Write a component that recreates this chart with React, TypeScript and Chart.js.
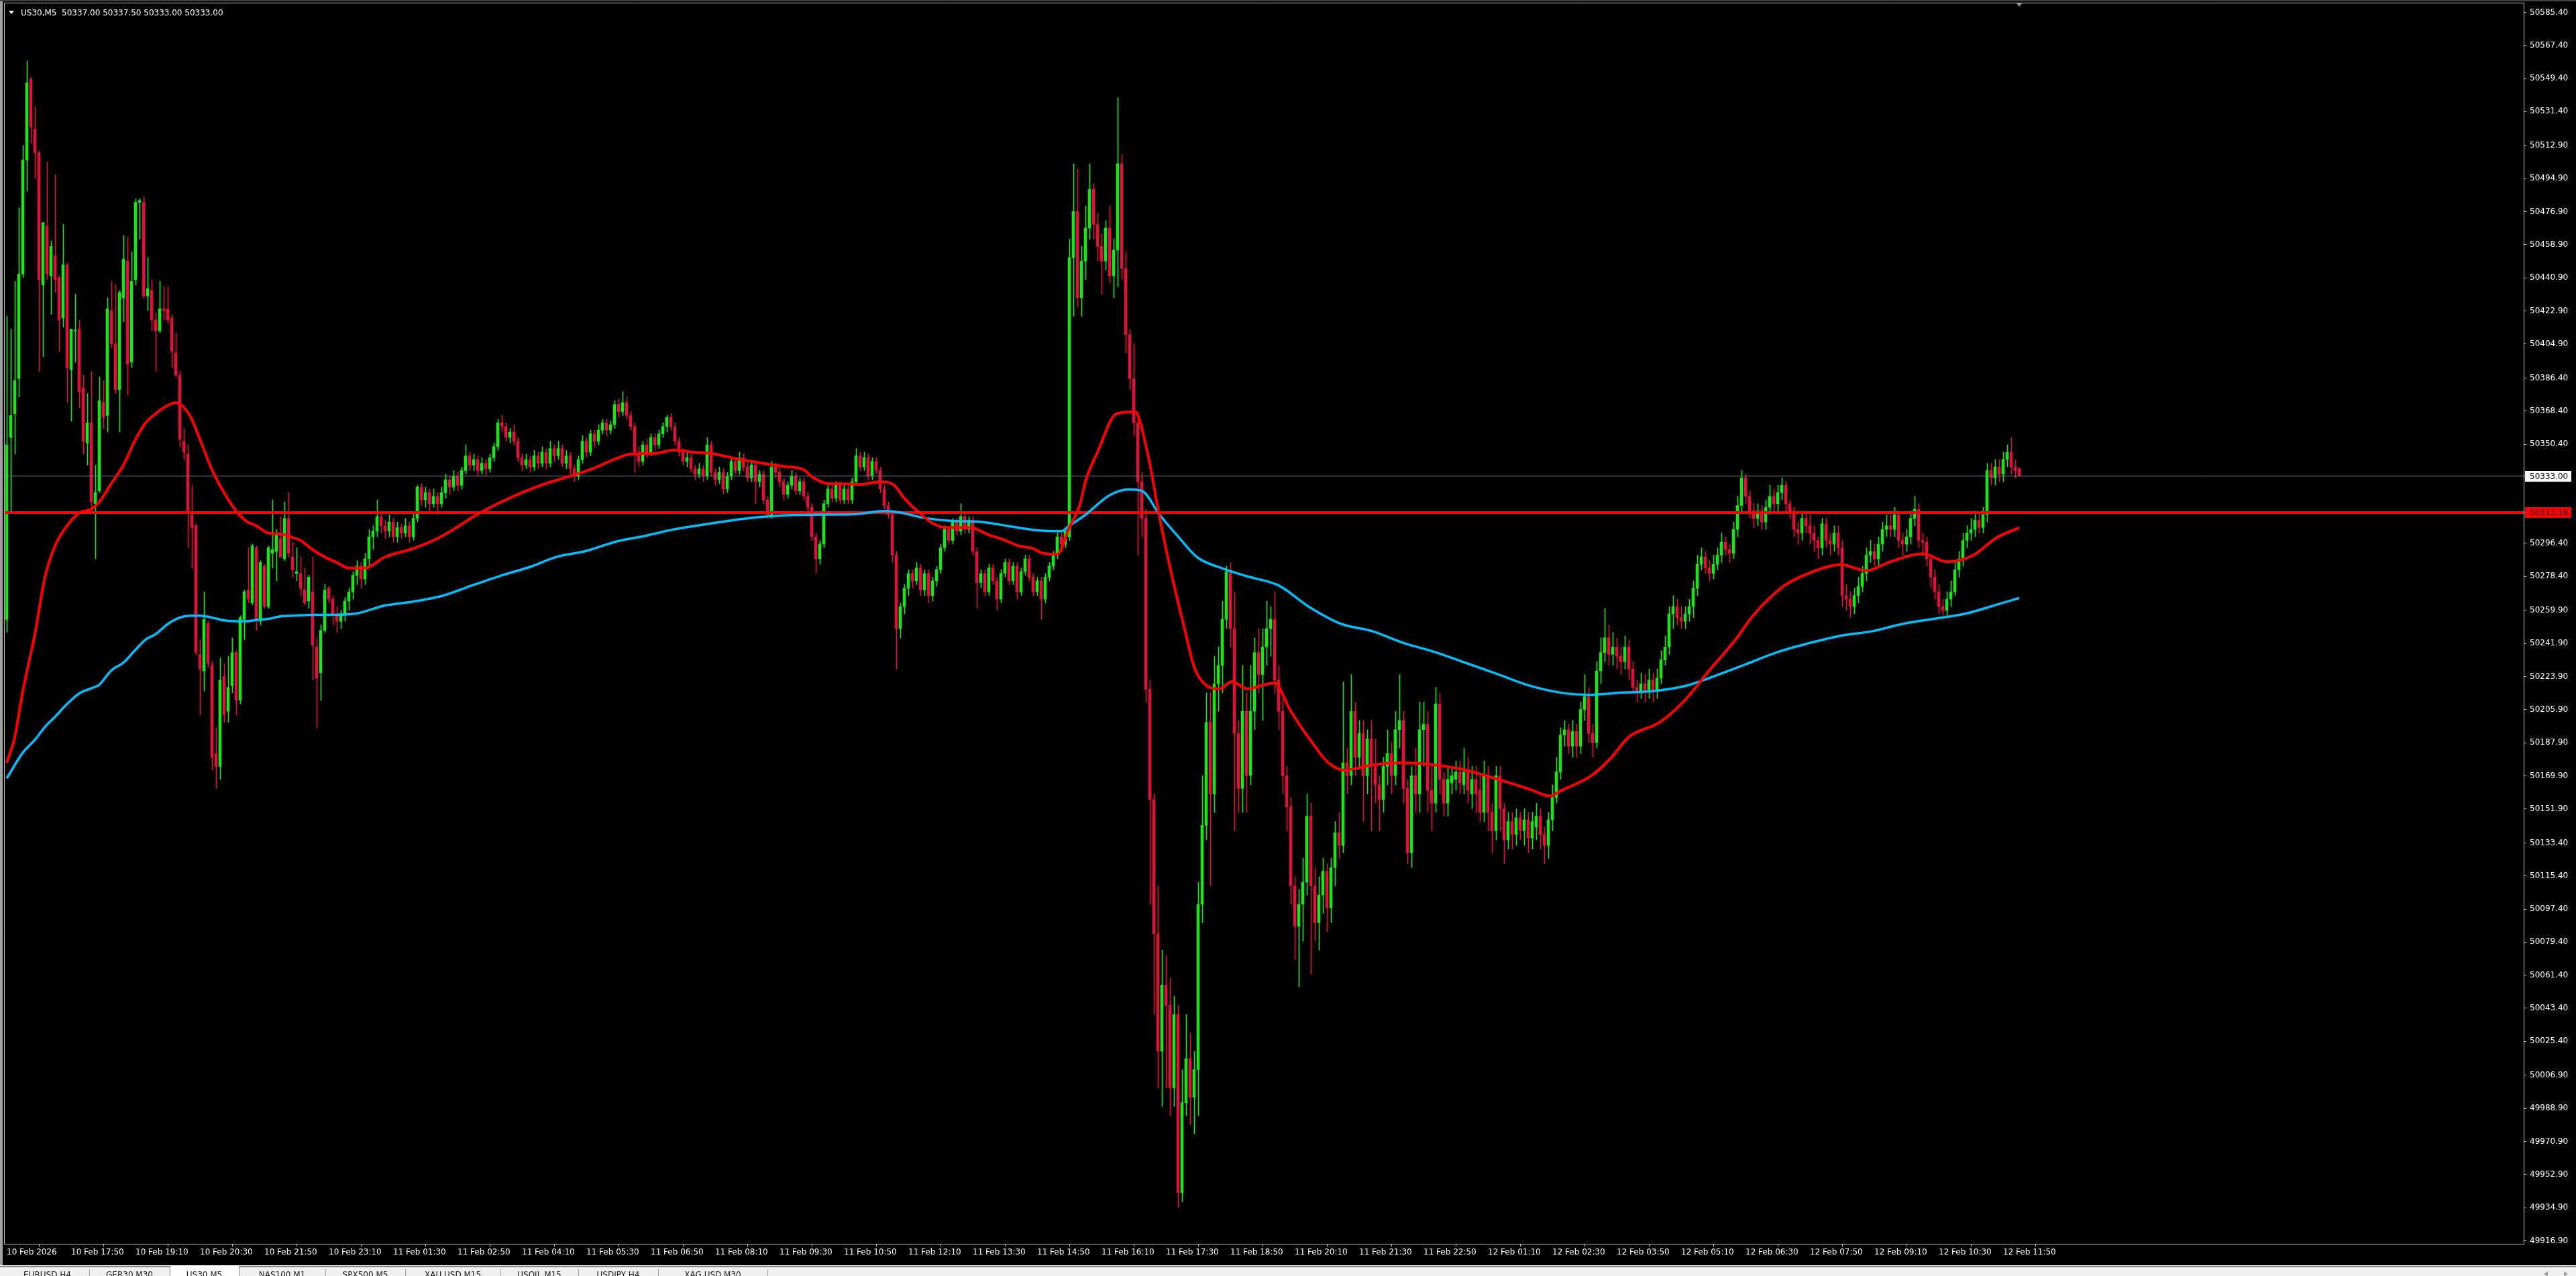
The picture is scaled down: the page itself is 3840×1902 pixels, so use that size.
import React, { useEffect, useRef } from 'react';
import { Chart, registerables } from 'chart.js';

Chart.register(...registerables);

// ---------------- DATA (US30, M5) ----------------
const symbolTitle = 'US30,M5';
const lastQuote = ['50337.00', '50337.50', '50333.00', '50333.00'];

const barOpen = [
  50255,50354,50367,50386,50443,50505,50549,50522,50509,50437,
  50469,50442,50453,50441,50419,50448,50391,50412,50413,50381,
  50351,50362,50318,50325,50373,50366,50423,50405,50380,50430,
  50450,50395,50440,50482,50482,50431,50434,50418,50412,50424,
  50424,50419,50400,50388,50352,50345,50312,50306,50236,50227,
  50253,50230,50182,50175,50224,50205,50219,50237,50211,50255,
  50271,50264,50294,50254,50284,50262,50291,50292,50299,50288,
  50310,50289,50280,50280,50271,50265,50270,50240,50226,50249,
  50272,50266,
  50258,50254,50258,50265,50270,50279,50284,50277,50288,50300,
  50303,50311,50306,50303,50308,50300,50305,50302,50306,50300,
  50310,50327,50320,50324,50318,50322,50318,50324,50331,50327,
  50333,50328,50336,50344,50339,50342,50336,50340,50337,50343,
  50349,50362,50360,50354,50357,50352,50343,50339,50342,50338,
  50344,50340,50346,50340,50348,50344,50348,50340,50344,50337,
  50333,50342,50352,50346,50356,50352,50358,50362,50358,50361,
  50372,50368,50373,50366,50360,50346,50341,50350,50346,50354,
  50350,50356,50360,50365,50360,50352,50346,50341,50343,50337,
  50334,50337,50333,50350,50335,50331,50335,50326,50333,50341,
  50336,50343,50338,50332,50339,50330,50334,50320,50312,50338,
  50335,50330,50323,50328,50333,50325,50330,50322,50316,50300,
  50288,50296,50318,50326,50321,50328,50320,50326,50320,50330,
  50344,50338,50343,50333,50341,50336,50326,50317,50312,50290,
  50250,50262,50272,50280,50276,50283,50271,50280,50268,50276,
  50282,50294,50304,50298,50308,50303,50311,50304,50309,50292,
  50275,50280,50270,50283,50276,50266,50280,50286,50276,50284,
  50270,50281,50288,50278,50270,50276,50266,50278,50284,50290,
  50300,50296,
  50300,50452,50477,50430,50450,50468,50489,50470,50458,50450,
  50468,50442,50456,50503,50446,50410,50386,50362,50330,50310,
  50217,50157,50084,50020,50056,50045,50000,50040,49943,49992,
  50016,49995,50010,50100,50143,50199,50160,50220,50230,50255,
  50281,50250,50193,50163,50205,50170,50205,50237,50225,50240,
  50250,50255,50222,50205,50170,50153,50110,50088,50100,50112,
  50148,50110,50090,50105,50118,50098,50120,50139,50132,50177,
  50170,50205,50180,50193,50170,50190,50175,50165,50157,50175,
  50182,50170,50195,50200,50163,50128,50170,50160,50195,50198,
  50162,50155,50209,50168,50155,50166,50168,50172,50165,50172,
  50160,50168,50162,50150,50170,50150,50140,50170,50152,50135,
  50145,50138,50147,50140,50146,50136,50142,50148,50138,50132,
  50146,50158,50172,50192,50195,50186,50194,50186,50206,50213,
  50193,50188,50227,50237,50245,50236,50240,50235,50232,50240,
  50228,50218,50215,50220,50216,50222,50216,50223,50233,50240,
  50258,50262,50256,50254,50258,50262,50272,50285,50289,50283,
  50280,50285,50290,50297,50293,50291,50304,50317,50332,50322,
  50314,50310,50314,50308,50316,50322,50318,50324,50328,50318,
  50314,50304,50302,50310,50306,50302,50298,50294,50307,50298,
  50296,50302,50294,50268,50266,50262,50268,50273,50280,50290,
  50292,50288,50296,50304,50306,50304,50312,50298,50296,50300,
  50310,50315,50298,50297,50288,50278,50270,50262,50260,50266,
  50270,50282,50288,50298,50302,50304,50309,50305,50312,50336,
  50332,50338,50334,50342,50346,50338,50337,
];

const barHigh = [
  50420,50413,50439,50479,50513,50559,50550,50534,50510,50471,
  50504,50461,50497,50442,50470,50449,50413,50432,50418,50388,
  50378,50390,50339,50387,50385,50430,50439,50437,50434,50464,
  50463,50455,50484,50484,50485,50452,50440,50422,50439,50436,
  50436,50421,50411,50390,50359,50350,50328,50307,50244,50270,
  50254,50232,50196,50234,50231,50235,50245,50238,50257,50271,
  50294,50296,50295,50287,50285,50295,50320,50304,50311,50319,
  50324,50297,50294,50289,50283,50279,50289,50245,50252,50274,
  50273,50268,
  50262,50260,50267,50272,50281,50287,50286,50291,50304,50306,
  50320,50314,50309,50312,50310,50308,50307,50310,50308,50313,
  50328,50329,50327,50326,50326,50324,50327,50334,50333,50336,
  50335,50338,50350,50346,50345,50344,50343,50342,50345,50351,
  50364,50366,50362,50359,50361,50354,50345,50345,50344,50347,
  50346,50349,50348,50352,50350,50352,50350,50347,50346,50339,
  50344,50355,50354,50358,50358,50361,50364,50364,50363,50374,
  50375,50379,50376,50368,50362,50349,50352,50353,50356,50356,
  50358,50362,50366,50367,50362,50354,50348,50346,50345,50339,
  50340,50339,50354,50352,50337,50338,50337,50335,50343,50343,
  50346,50345,50340,50341,50341,50336,50336,50322,50341,50340,
  50337,50332,50330,50336,50335,50332,50332,50324,50318,50302,
  50298,50320,50328,50328,50330,50330,50328,50328,50332,50348,
  50346,50346,50345,50343,50343,50338,50328,50319,50314,50292,
  50264,50274,50282,50282,50286,50285,50282,50282,50278,50284,
  50296,50306,50306,50310,50310,50318,50313,50311,50311,50294,
  50282,50282,50285,50285,50278,50282,50288,50288,50286,50286,
  50283,50290,50290,50280,50278,50278,50280,50286,50292,50302,
  50302,50305,
  50462,50503,50500,50458,50480,50503,50492,50476,50465,50472,
  50480,50462,50539,50508,50455,50413,50405,50368,50335,50315,
  50222,50160,50110,50075,50072,50060,50050,50045,50010,50040,
  50030,50020,50112,50170,50215,50215,50235,50240,50265,50284,
  50286,50270,50200,50230,50215,50230,50245,50250,50250,50265,
  50262,50270,50230,50212,50175,50158,50115,50108,50125,50160,
  50155,50120,50115,50125,50122,50125,50145,50150,50221,50185,
  50225,50210,50200,50200,50195,50200,50190,50170,50180,50195,
  50188,50205,50225,50205,50168,50175,50185,50210,50210,50205,
  50175,50218,50215,50172,50175,50175,50178,50178,50185,50180,
  50175,50175,50170,50178,50175,50155,50175,50175,50155,50150,
  50150,50152,50150,50152,50150,50150,50155,50152,50142,50150,
  50165,50180,50196,50200,50198,50200,50198,50210,50225,50218,
  50198,50232,50245,50261,50252,50248,50245,50240,50246,50244,
  50232,50222,50226,50225,50228,50226,50228,50238,50246,50262,
  50268,50266,50262,50262,50266,50276,50290,50294,50292,50287,
  50290,50294,50302,50300,50296,50308,50322,50336,50334,50325,
  50318,50318,50317,50320,50328,50326,50328,50332,50330,50320,
  50316,50308,50314,50314,50312,50306,50300,50310,50310,50302,
  50306,50306,50298,50274,50270,50272,50278,50284,50294,50298,
  50296,50300,50308,50312,50312,50316,50314,50302,50304,50314,
  50322,50318,50302,50300,50290,50282,50274,50266,50270,50276,
  50286,50292,50302,50306,50310,50314,50314,50316,50340,50340,
  50342,50342,50346,50350,50354,50342,50337.5,
];

const barLow = [
  50248,50313,50345,50376,50441,50488,50514,50495,50390,50398,
  50440,50421,50433,50401,50414,50373,50363,50395,50370,50345,
  50339,50315,50288,50324,50359,50357,50403,50378,50357,50417,
  50377,50392,50437,50462,50430,50423,50412,50390,50411,50418,
  50416,50392,50387,50349,50342,50294,50283,50236,50203,50216,
  50229,50173,50163,50168,50199,50199,50215,50203,50209,50244,
  50264,50263,50249,50252,50261,50261,50283,50276,50289,50287,
  50289,50278,50276,50268,50263,50261,50222,50196,50211,50248,
  50264,50252,
  50248,50250,50254,50260,50266,50274,50272,50274,50284,50293,
  50300,50302,50299,50300,50297,50297,50299,50300,50297,50298,
  50308,50317,50316,50314,50316,50312,50316,50321,50323,50325,
  50325,50326,50334,50336,50336,50333,50334,50333,50335,50341,
  50347,50357,50352,50351,50350,50341,50336,50337,50335,50336,
  50337,50338,50337,50338,50341,50342,50338,50337,50334,50330,
  50331,50340,50343,50344,50349,50350,50356,50355,50356,50359,
  50365,50366,50364,50358,50335,50338,50339,50343,50344,50347,
  50348,50354,50357,50358,50350,50344,50339,50338,50335,50331,
  50332,50330,50331,50333,50328,50329,50323,50324,50331,50334,
  50334,50336,50330,50330,50318,50327,50318,50310,50310,50332,
  50327,50320,50321,50326,50323,50323,50320,50313,50298,50280,
  50285,50294,50316,50319,50319,50318,50318,50318,50318,50328,
  50336,50336,50331,50331,50334,50324,50315,50310,50286,50228,
  50245,50258,50268,50272,50274,50268,50268,50264,50265,50273,
  50280,50292,50296,50296,50301,50301,50302,50302,50290,50261,
  50272,50268,50268,50274,50260,50264,50278,50274,50274,50266,
  50268,50279,50276,50268,50268,50255,50264,50276,50282,50288,
  50292,50294,
  50298,50420,50425,50420,50440,50462,50462,50450,50432,50445,
  50438,50430,50436,50440,50400,50380,50355,50290,50300,50210,
  50100,50040,50000,49990,50000,49985,49990,49935,49938,49985,
  49980,49975,49985,50090,50135,50110,50150,50205,50215,50250,
  50240,50140,50150,50150,50150,50165,50195,50215,50200,50230,
  50235,50215,50195,50160,50140,50100,50070,50055,50080,50105,
  50062,50080,50075,50095,50085,50090,50110,50125,50128,50160,
  50165,50170,50175,50145,50160,50140,50155,50140,50150,50165,
  50160,50165,50185,50155,50122,50120,50150,50150,50175,50150,
  50140,50150,50160,50148,50148,50160,50162,50160,50160,50155,
  50152,50150,50145,50145,50140,50128,50135,50140,50122,50130,
  50130,50132,50135,50132,50128,50130,50135,50130,50122,50125,
  50140,50155,50168,50186,50182,50180,50180,50182,50200,50188,
  50180,50185,50220,50232,50230,50230,50228,50225,50228,50222,
  50215,50210,50212,50210,50212,50210,50212,50220,50230,50236,
  50250,50252,50250,50250,50254,50256,50268,50282,50280,50276,
  50277,50282,50286,50290,50286,50288,50300,50314,50318,50310,
  50305,50306,50304,50304,50312,50314,50314,50320,50314,50310,
  50300,50296,50298,50302,50296,50292,50288,50290,50294,50290,
  50292,50290,50262,50260,50256,50258,50264,50270,50276,50286,
  50284,50284,50292,50300,50300,50300,50294,50290,50292,50296,
  50306,50294,50290,50284,50272,50266,50258,50256,50256,50262,
  50268,50278,50284,50294,50298,50300,50302,50302,50308,50328,
  50328,50330,50330,50338,50334,50332,50333,
];

const barClose = [
  50350,50366,50385,50443,50505,50547,50523,50509,50440,50471,
  50443,50458,50440,50418,50448,50392,50413,50412,50379,50352,
  50362,50319,50324,50374,50365,50424,50405,50380,50433,50451,
  50394,50439,50482,50483,50431,50435,50418,50412,50424,50423,
  50418,50401,50388,50353,50346,50314,50305,50237,50228,50255,
  50231,50180,50175,50222,50203,50218,50237,50211,50256,50270,
  50266,50295,50255,50286,50262,50294,50293,50301,50289,50310,
  50291,50282,50281,50272,50264,50278,50241,50223,50249,50271,
  50266,50258,
  50254,50258,50265,50270,50279,50284,50277,50288,50300,50303,
  50311,50306,50303,50308,50300,50305,50302,50306,50300,50310,
  50327,50320,50324,50318,50322,50318,50324,50331,50327,50333,
  50328,50336,50344,50339,50342,50336,50340,50337,50343,50349,
  50362,50360,50354,50357,50352,50343,50339,50342,50338,50344,
  50340,50346,50340,50348,50344,50348,50340,50344,50337,50333,
  50342,50352,50346,50356,50352,50358,50362,50358,50361,50372,
  50368,50373,50366,50360,50346,50341,50350,50346,50354,50350,
  50356,50360,50365,50360,50352,50346,50341,50343,50337,50334,
  50337,50333,50350,50335,50331,50335,50326,50333,50341,50336,
  50343,50338,50332,50339,50330,50334,50320,50312,50338,50335,
  50330,50323,50328,50333,50325,50330,50322,50316,50300,50288,
  50296,50318,50326,50321,50328,50320,50326,50320,50330,50344,
  50338,50343,50333,50341,50336,50326,50317,50312,50290,50250,
  50262,50272,50280,50276,50283,50271,50280,50268,50276,50282,
  50294,50304,50298,50308,50303,50311,50304,50309,50292,50275,
  50280,50270,50283,50276,50266,50280,50286,50276,50284,50270,
  50281,50288,50278,50270,50276,50266,50278,50284,50290,50300,
  50296,50303,
  50452,50477,50430,50450,50468,50489,50470,50458,50450,50468,
  50442,50456,50503,50446,50410,50386,50362,50330,50310,50217,
  50157,50084,50020,50056,50045,50000,50040,49943,49992,50016,
  49995,50010,50100,50143,50199,50160,50220,50230,50255,50281,
  50250,50193,50163,50205,50170,50205,50237,50225,50240,50250,
  50255,50222,50205,50170,50153,50110,50088,50100,50112,50148,
  50110,50090,50105,50118,50098,50120,50139,50132,50177,50170,
  50205,50180,50193,50170,50190,50175,50165,50157,50175,50182,
  50170,50195,50200,50163,50128,50170,50160,50195,50198,50162,
  50155,50209,50168,50155,50168,50170,50172,50166,50172,50162,
  50168,50160,50150,50170,50150,50140,50170,50152,50135,50145,
  50138,50147,50140,50146,50136,50145,50148,50138,50132,50146,
  50158,50172,50192,50195,50186,50194,50186,50206,50213,50193,
  50188,50227,50237,50245,50236,50240,50235,50232,50240,50228,
  50218,50215,50220,50216,50222,50216,50223,50233,50240,50258,
  50262,50256,50254,50258,50262,50272,50285,50289,50283,50280,
  50285,50290,50297,50293,50291,50304,50317,50332,50322,50314,
  50310,50314,50308,50316,50322,50318,50324,50328,50318,50314,
  50304,50302,50310,50306,50302,50298,50294,50307,50298,50296,
  50302,50294,50268,50266,50262,50268,50273,50280,50290,50292,
  50288,50296,50304,50306,50304,50312,50298,50296,50300,50310,
  50315,50298,50297,50288,50278,50270,50262,50260,50266,50270,
  50282,50288,50298,50302,50304,50309,50305,50312,50336,50332,
  50338,50334,50342,50346,50338,50336,50333,
];

// Moving averages: [bar index, price]
const maFast: [number, number][] = [
  [0,50177],[2,50191],[4,50216],[7,50247],[9.5,50278],[12,50295],[15,50306],[18,50313],[21,50315],[23,50319],
  [26,50329],[29,50339],[32,50353],[34.5,50362],[37,50367],[40,50371.5],[42,50373],[45.5,50366],[48,50353],[51,50336.5],
  [54,50324],[57,50314],[59.5,50308.5],[62,50306],[65,50302],[68,50301.5],[70.5,50300],[73,50298],[76,50293],[79,50289],
  [82,50286],[85,50283],[89,50283],[94,50289],[101,50293.6],[106,50298],[111,50304],[116,50311],[122,50318],[128,50324],
  [134,50329],[140,50333],[145.5,50337],[151.5,50342.6],[155,50345],[161,50345.4],[166,50347.2],[170.5,50346],[175,50345.4],[181,50342.6],
  [187,50340.3],[193,50338.3],[198,50336.5],[200,50332.7],[204,50329],[208.5,50328.8],[212,50328.5],[217,50330],[220.5,50328],[223,50321],
  [226.5,50313.5],[230,50307.4],[233.5,50305],[239.5,50305],[244,50301],[247,50299],[251.5,50295],[255,50293.6],[257.5,50291],[261,50290.5],
  [264,50305],[266.7,50318],[268,50330],[271,50346],[275.7,50366.9],[280.3,50368],[283.4,50346],[286.5,50309.7],[289.6,50277.6],[292.7,50249.4],
  [295,50229.3],[298,50219.2],[301.3,50217.2],[304.4,50221.2],[308.3,50217.2],[312,50219.2],[315,50220.4],[319,50205.1],[324,50189],[328.4,50177],
  [332.3,50173],[339.3,50175.8],[346.3,50177],[354.8,50175.8],[362.6,50173],[370.3,50168.1],[378,50162.9],[383.5,50158.9],[386,50161.7],[393.6,50169.8],
  [398.3,50179],[403,50191],[410.7,50199.1],[417,50211.2],[423,50227.3],[429.3,50243.4],[434,50257.4],[441.7,50273.5],[448,50280.4],[455.7,50284.8],
  [462,50281.6],[468,50286.4],[476,50290.8],[482,50286.4],[488.3,50289.6],[494.5,50299.7],[500,50304.9],
];

const maSlow: [number, number][] = [
  [0,50168.5],[4,50182.5],[7,50189.5],[9.5,50196.5],[12,50202],[15,50209],[18,50214.7],[21,50217.5],[23,50219.5],[26,50227.3],
  [29,50231.5],[32,50238.5],[34.5,50244],[37,50247],[40,50252.5],[43,50256],[45.5,50257],[48,50257],[51,50256],[54,50254.5],
  [57,50254],[59.5,50254],[62,50254.7],[65,50255.3],[68,50256.7],[71,50257],[76,50257.5],[82,50257.6],[87,50258.3],[94,50262.6],
  [101,50264.7],[108.6,50268.1],[115.7,50273.6],[123,50279],[130,50283.6],[137,50289.3],[144,50292.3],[151.4,50297.4],[158.6,50300.5],[165.7,50304],
  [173,50306.6],[180,50308.9],[187,50310.7],[194,50311.7],[201,50312],[211,50312.3],[218,50314],[222,50313.2],[227.6,50310.4],[234.8,50308.6],
  [242,50308.1],[249,50305.8],[256,50303.5],[262,50303],[264,50306],[267.9,50311.8],[274,50322.6],[278.8,50325.8],[282,50325],[286.5,50311.8],
  [291.2,50299.7],[295.8,50288.8],[302,50282.8],[308.3,50278.4],[316,50273.5],[323.8,50261.5],[331.5,50252.6],[339.3,50248.6],[347,50242.2],[354.8,50237.3],
  [362.6,50231.3],[370.3,50225.3],[378,50219.2],[386,50215.2],[393.6,50214],[401.4,50215.2],[409,50216],[417,50218.8],[424.7,50224.5],[432.4,50230.9],
  [440,50237.3],[448,50242.2],[455.7,50246.2],[463.5,50248.6],[471,50252.6],[479,50255.4],[486.8,50258.2],[494.5,50263.1],[500,50266.7],
];

const bidPrice = 50333.0;
const levelPrice = 50313.18;

const priceTicks = [
  50585.4, 50567.4, 50549.4, 50531.4, 50512.9, 50494.9, 50476.9, 50458.9, 50440.9, 50422.9,
  50404.9, 50386.4, 50368.4, 50350.4, 50296.4, 50278.4, 50259.9, 50241.9, 50223.9, 50205.9,
  50187.9, 50169.9, 50151.9, 50133.4, 50115.4, 50097.4, 50079.4, 50061.4, 50043.4, 50025.4,
  50006.9, 49988.9, 49970.9, 49952.9, 49934.9, 49916.9,
];

const timeTickBars = [
  0, 16, 32, 48, 64, 80, 96, 112, 128, 144, 160, 176, 192, 208, 224, 240,
  256, 272, 288, 304, 320, 336, 352, 368, 384, 400, 416, 432, 448, 464, 480, 496,
];
const timeLabels = [
  '10 Feb 2026', '10 Feb 17:50', '10 Feb 19:10', '10 Feb 20:30', '10 Feb 21:50', '10 Feb 23:10',
  '11 Feb 01:30', '11 Feb 02:50', '11 Feb 04:10', '11 Feb 05:30', '11 Feb 06:50', '11 Feb 08:10',
  '11 Feb 09:30', '11 Feb 10:50', '11 Feb 12:10', '11 Feb 13:30', '11 Feb 14:50', '11 Feb 16:10',
  '11 Feb 17:30', '11 Feb 18:50', '11 Feb 20:10', '11 Feb 21:30', '11 Feb 22:50', '12 Feb 01:10',
  '12 Feb 02:30', '12 Feb 03:50', '12 Feb 05:10', '12 Feb 06:30', '12 Feb 07:50', '12 Feb 09:10',
  '12 Feb 10:30', '12 Feb 11:50',
];

const tabNames = ['EURUSD,H4', 'GER30,M30', 'US30,M5', 'NAS100,M1', 'SPX500,M5', 'XAU USD,M15', 'USOIL,M15', 'USDJPY,H4', 'XAG USD,M30'];
const activeTab = 2;

// ---------------- STYLE ----------------
const W = 3840;
const H = 1902;
const X_MIN = -0.6667;
const X_MAX = 625.3333;
const Y_MIN = 49915.22;
const Y_MAX = 50590.65;
const UP_COLOR = '#1fe21f';
const DOWN_COLOR = '#dc143c';
const AXIS_COLOR = '#c0c0c0';
const FONT = '"DejaVu Sans", "Liberation Sans", sans-serif';
const WICK_SHIFT = 1 / 12; // half a pixel so 1px wicks stay crisp
const TAB_EDGES = [8, 133, 253, 356, 485, 604, 746, 862, 981, 1144];

const mt4Plugin = {
  id: 'mt4Decor',
  beforeDraw(chart: any) {
    const { ctx } = chart;
    ctx.save();
    ctx.fillStyle = '#000000';
    ctx.fillRect(0, 0, chart.width, chart.height);
    ctx.fillStyle = '#a0a0a0';
    ctx.fillRect(0, 0, 4, 1886);
    ctx.fillStyle = '#404040';
    ctx.fillRect(0, 0, chart.width, 2);
    ctx.restore();
  },
  afterDraw(chart: any) {
    const { ctx, chartArea: a, scales } = chart;
    const ys = scales.y;
    const xs = scales.x;
    ctx.save();
    ctx.strokeStyle = AXIS_COLOR;
    ctx.lineWidth = 1;
    ctx.beginPath();
    ctx.moveTo(a.left + 0.5, a.bottom);
    ctx.lineTo(a.left + 0.5, a.top + 0.5);
    ctx.lineTo(a.right, a.top + 0.5);
    ctx.stroke();

    // header
    ctx.fillStyle = '#ffffff';
    ctx.beginPath();
    ctx.moveTo(13, 16);
    ctx.lineTo(21, 16);
    ctx.lineTo(17, 21);
    ctx.closePath();
    ctx.fill();
    ctx.font = `12px ${FONT}`;
    ctx.textBaseline = 'alphabetic';
    ctx.textAlign = 'left';
    ctx.fillText(`${symbolTitle}  ${lastQuote.join(' ')}`, 31, 23);

    // chart-shift marker
    const sx = xs.getPixelForValue(barClose.length - 1);
    ctx.fillStyle = '#909090';
    ctx.beginPath();
    ctx.moveTo(sx - 4, a.top + 1);
    ctx.lineTo(sx + 4, a.top + 1);
    ctx.lineTo(sx, a.top + 6);
    ctx.closePath();
    ctx.fill();

    // price boxes on the axis
    const boxes = [
      { v: bidPrice, bg: '#ffffff', fg: '#000000' },
      { v: levelPrice, bg: '#ff0000', fg: '#2a0000' },
    ];
    for (const b of boxes) {
      const y = Math.round(ys.getPixelForValue(b.v));
      ctx.fillStyle = b.bg;
      ctx.fillRect(a.right + 2, y - 8, 69, 16);
      ctx.strokeStyle = AXIS_COLOR;
      ctx.beginPath();
      ctx.moveTo(a.right, y + 0.5);
      ctx.lineTo(a.right + 3, y + 0.5);
      ctx.stroke();
      ctx.fillStyle = b.fg;
      ctx.textBaseline = 'middle';
      ctx.fillText(b.v.toFixed(2), a.right + 9, y + 1);
    }

    // bottom tab bar
    ctx.fillStyle = '#ffffff';
    ctx.fillRect(0, 1886, W, 1);
    ctx.fillStyle = '#8a8a8a';
    ctx.fillRect(0, 1887, W, 2);
    ctx.fillStyle = '#f0f0f0';
    ctx.fillRect(0, 1889, W, H - 1889);
    ctx.font = `12px ${FONT}`;
    ctx.textBaseline = 'alphabetic';
    ctx.textAlign = 'center';
    tabNames.forEach((name, i) => {
      const x0 = TAB_EDGES[i];
      const x1 = TAB_EDGES[i + 1];
      if (i === activeTab) {
        ctx.fillStyle = '#ffffff';
        ctx.fillRect(x0, 1887, x1 - x0, H - 1887);
        ctx.fillStyle = '#8a8a8a';
        ctx.fillRect(x0, 1887, 1, H - 1887);
        ctx.fillRect(x1, 1887, 1, H - 1887);
      } else {
        ctx.fillStyle = '#a0a0a0';
        ctx.fillRect(x1, 1892, 1, H - 1892);
      }
      ctx.fillStyle = '#202020';
      ctx.fillText(name, (x0 + x1) / 2, 1904);
    });
    ctx.fillStyle = '#a0a0a0';
    ctx.beginPath();
    ctx.moveTo(3798, 1895); ctx.lineTo(3792, 1899); ctx.lineTo(3798, 1903); ctx.closePath(); ctx.fill();
    ctx.beginPath();
    ctx.moveTo(3822, 1895); ctx.lineTo(3828, 1899); ctx.lineTo(3822, 1903); ctx.closePath(); ctx.fill();
    ctx.restore();
  },
};

export default function App() {
  const canvasRef = useRef<HTMLCanvasElement>(null);

  useEffect(() => {
    const canvas = canvasRef.current;
    if (!canvas) return;
    const colors = barClose.map((c, i) => (c >= barOpen[i] ? UP_COLOR : DOWN_COLOR));
    const wickData = barClose.map((_, i) => ({ x: i + WICK_SHIFT, y: [barLow[i], barHigh[i]] }));
    const bodyData = barClose.map((c, i) => ({ x: i, y: [barOpen[i], c] }));

    const chart = new Chart(canvas, {
      type: 'bar',
      data: {
        datasets: [
          { type: 'bar', data: wickData as any, backgroundColor: colors, barThickness: 1, grouped: false, minBarLength: 1, borderWidth: 0, order: 6 } as any,
          { type: 'bar', data: bodyData as any, backgroundColor: colors, barThickness: 4, grouped: false, minBarLength: 1, borderWidth: 0, order: 5 } as any,
          { type: 'line', data: [{ x: X_MIN, y: bidPrice }, { x: X_MAX, y: bidPrice }], borderColor: '#778899', borderWidth: 1, pointRadius: 0, order: 4 } as any,
          { type: 'line', data: [{ x: X_MIN, y: levelPrice }, { x: X_MAX, y: levelPrice }], borderColor: '#ff0000', borderWidth: 4, pointRadius: 0, order: 3 } as any,
          { type: 'line', data: maSlow.map(([x, y]) => ({ x, y })), borderColor: '#00bfff', borderWidth: 3.5, pointRadius: 0, cubicInterpolationMode: 'monotone', order: 2 } as any,
          { type: 'line', data: maFast.map(([x, y]) => ({ x, y })), borderColor: '#ff0000', borderWidth: 4, pointRadius: 0, cubicInterpolationMode: 'monotone', order: 1 } as any,
        ],
      },
      options: {
        responsive: false,
        animation: false,
        devicePixelRatio: 1,
        events: [],
        layout: { autoPadding: false, padding: { left: 6, top: 4, right: 0, bottom: 0 } },
        plugins: { legend: { display: false }, tooltip: { enabled: false }, title: { display: false } },
        scales: {
          x: {
            type: 'linear',
            position: 'bottom',
            min: X_MIN,
            max: X_MAX,
            offset: false,
            afterBuildTicks: (s: any) => { s.ticks = timeTickBars.map((v) => ({ value: v })); },
            afterFit: (s: any) => { s.height = 48; s.paddingLeft = 0; s.paddingRight = 0; },
            ticks: {
              autoSkip: false, maxRotation: 0, minRotation: 0, align: 'start', padding: 2,
              color: '#ffffff', font: { family: FONT, size: 12 },
              callback: (_v: any, i: number) => timeLabels[i] ?? '',
            },
            grid: {
              display: true, drawOnChartArea: false, drawTicks: true, tickLength: 4,
              color: (c: any) => (c.index === 0 ? 'rgba(0,0,0,0)' : AXIS_COLOR),
            },
            border: { display: true, color: AXIS_COLOR, width: 1 },
          } as any,
          y: {
            type: 'linear',
            position: 'right',
            min: Y_MIN,
            max: Y_MAX,
            afterBuildTicks: (s: any) => { s.ticks = priceTicks.map((v) => ({ value: v })); },
            afterFit: (s: any) => { s.width = 78; s.paddingTop = 0; s.paddingBottom = 0; },
            ticks: {
              autoSkip: false, padding: 5, color: '#ffffff', font: { family: FONT, size: 12 },
              callback: (v: any) => Number(v).toFixed(2),
            },
            grid: { display: true, drawOnChartArea: false, drawTicks: true, tickLength: 4, color: AXIS_COLOR },
            border: { display: true, color: AXIS_COLOR, width: 1 },
          } as any,
        },
      },
      plugins: [mt4Plugin],
    });
    return () => chart.destroy();
  }, []);

  return (
    <div style={{ position: 'fixed', left: 0, top: 0, width: W, height: H, background: '#000', overflow: 'hidden' }}>
      <canvas ref={canvasRef} width={W} height={H} style={{ display: 'block', width: W, height: H }} />
    </div>
  );
}
